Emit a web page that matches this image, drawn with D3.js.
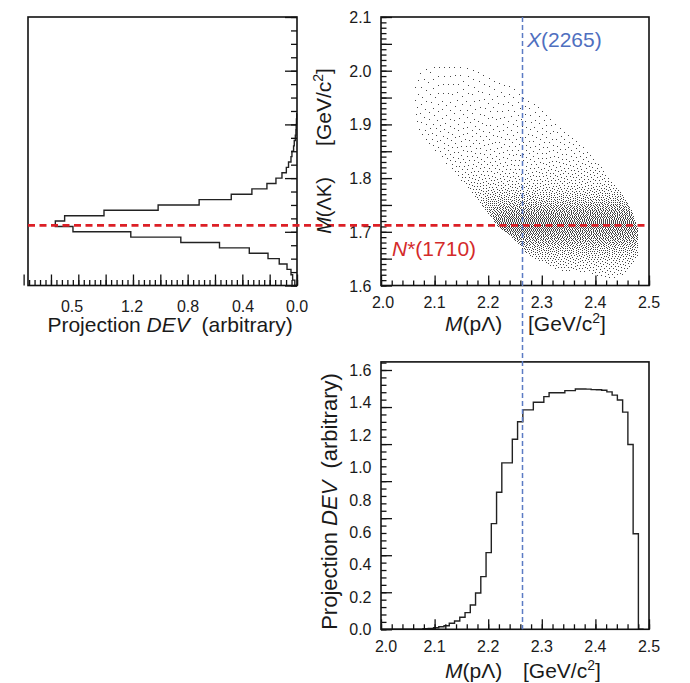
<!DOCTYPE html>
<html><head><meta charset="utf-8">
<script src="https://cdn.jsdelivr.net/npm/d3@7"></script>
<style>
body{margin:0;background:#fff}
svg{display:block}
text{font-family:"Liberation Sans",Arial,Helvetica,sans-serif;fill:#1a1a1a}
</style>
</head><body>
<svg id="chart" width="690" height="683"></svg>
<script>
// ---------------- data ----------------
// Projection of the Dalitz density onto M(ΛK): bins of 0.01 GeV starting at 1.60
const lamKBinStart = 1.60;
const lamKBinWidth = 0.01;
const lamKProjection = [
  0.016, 0.032, 0.044, 0.073, 0.130, 0.212, 0.349, 0.567, 0.850, 1.216,
  1.639, 1.768, 1.700, 1.412, 1.016, 0.716, 0.481, 0.330, 0.220, 0.154,
  0.110, 0.078, 0.062, 0.044, 0.037, 0.025, 0.020, 0.012, 0.008, 0.006,
  0.004, 0.002
];
// Projection onto M(pΛ): bins of 0.0098 GeV starting at 2.00
const pLamBinStart = 2.00;
const pLamBinWidth = 0.0098;
const pLamProjection = [
  0, 0, 0, 0, 0, 0, 0, 0, 0.003, 0.006,
  0.010, 0.016, 0.022, 0.037, 0.051, 0.074, 0.103, 0.150, 0.224, 0.325,
  0.473, 0.652, 0.846, 1.027, 1.027, 1.173, 1.281, 1.354, 1.354, 1.401,
  1.401, 1.436, 1.460, 1.460, 1.460, 1.473, 1.473, 1.483, 1.483, 1.482,
  1.479, 1.478, 1.475, 1.465, 1.445, 1.415, 1.340, 1.140, 0.590, 0
];
// Outline of the Dalitz-plot population [M(pΛ), M(ΛK)]
const cloudOutline = [
  [2.058,1.990],[2.063,2.010],[2.075,2.024],[2.090,2.030],[2.120,2.033],[2.160,2.031],
  [2.187,2.020],[2.205,2.008],[2.230,1.999],[2.252,1.989],[2.262,1.975],[2.272,1.964],
  [2.290,1.957],[2.305,1.945],[2.323,1.921],[2.342,1.901],[2.373,1.876],[2.395,1.850],
  [2.410,1.830],[2.425,1.805],[2.441,1.785],[2.458,1.760],[2.467,1.742],[2.473,1.724],
  [2.479,1.705],[2.480,1.680],[2.479,1.655],[2.470,1.640],[2.460,1.626],[2.445,1.615],
  [2.420,1.614],[2.402,1.618],[2.386,1.625],[2.330,1.628],[2.310,1.638],[2.292,1.647],
  [2.272,1.660],[2.261,1.672],[2.243,1.691],[2.220,1.708],[2.205,1.728],[2.180,1.759],
  [2.155,1.790],[2.127,1.821],[2.099,1.852],[2.085,1.866],[2.070,1.886],[2.062,1.910],
  [2.059,1.950]
];
// Visual darkness of the point cloud, cells of 0.025 x 0.025 GeV
// rows from M(ΛK)=2.100 (top) down to 1.600, columns from M(pΛ)=2.000 to 2.500
const cloudCellSize = 0.025;
const cloudDarkness = [
  [0,0,0,0,0,0,0,0,0,0,0,0,0,0,0,0,0,0,0,0],
  [0,0,0,0,0,0,0,0,0,0,0,0,0,0,0,0,0,0,0,0],
  [0,0,.12,.12,.12,.12,.12,.12,.12,.12,0,0,0,0,0,0,0,0,0,0],
  [0,0,.13,.13,.13,.13,.13,.13,.13,.13,.13,0,0,0,0,0,0,0,0,0],
  [0,0,.13,.13,.13,.13,.13,.13,.13,.13,.14,.14,0,0,0,0,0,0,0,0],
  [0,0,.14,.14,.14,.14,.14,.14,.14,.14,.14,.14,.14,0,0,0,0,0,0,0],
  [0,0,.15,.15,.15,.15,.15,.15,.15,.15,.15,.15,.15,.15,0,0,0,0,0,0],
  [0,0,.16,.16,.16,.16,.16,.16,.16,.16,.16,.16,.16,.16,.16,0,0,0,0,0],
  [0,0,.18,.18,.18,.18,.18,.18,.18,.18,.18,.18,.18,.18,.18,.18,0,0,0,0],
  [0,0,.20,.20,.20,.20,.20,.20,.20,.20,.20,.20,.20,.20,.20,.20,.20,0,0,0],
  [0,0,0,.22,.22,.22,.22,.22,.22,.22,.22,.22,.22,.22,.22,.22,.22,.22,0,0],
  [0,0,0,0,.26,.26,.26,.26,.26,.26,.26,.26,.30,.30,.30,.30,.30,.30,.30,0],
  [0,0,0,0,0,.35,.35,.35,.35,.35,.35,.35,.35,.35,.35,.35,.35,.35,.35,.35],
  [0,0,0,0,0,0,.40,.45,.55,.55,.55,.55,.55,.55,.55,.55,.55,.55,.55,.50],
  [0,0,0,0,0,0,0,.60,.75,.82,.82,.82,.82,.82,.82,.82,.82,.82,.82,.82],
  [0,0,0,0,0,0,0,0,.95,1.0,1.0,1.0,1.0,.95,.95,.95,.95,.95,.95,.95],
  [0,0,0,0,0,0,0,0,.80,.80,.80,.80,.80,.80,.80,.80,.80,.80,.80,.80],
  [0,0,0,0,0,0,0,0,0,.55,.55,.55,.55,.55,.55,.55,.55,.55,.55,.55],
  [0,0,0,0,0,0,0,0,0,0,.38,.38,.38,.38,.38,.38,.38,.38,.38,.38],
  [0,0,0,0,0,0,0,0,0,0,0,0,.28,.28,.28,.28,.28,.28,.28,.28]
];
// resonance markers
const nStarMass = 1.712;   // N*(1710) line position
const xMass = 2.264;       // X(2265) line position
// tick labels
const pLamTickLabels = ["2.0","2.1","2.2","2.3","2.4","2.5"];
const pLamTickValues = [2.0,2.1,2.2,2.3,2.4,2.5];
const lamKTickLabels = ["1.6","1.7","1.8","1.9","2.0","2.1"];
const lamKTickValues = [1.6,1.7,1.8,1.9,2.0,2.1];
const leftTickLabels = ["0.5","1.2","0.8","0.4","0.0"];
const leftTickLabelPos = [1.646,1.207,0.797,0.395,0.0];
const bottomTickLabels = ["1.6","1.4","1.2","1.0","0.8","0.6","0.4","0.2","0.0"];
const bottomTickLabelPos = [1.6,1.4,1.2,1.0,0.8,0.6,0.4,0.2,0.0];

// ---------------- drawing ----------------
const svg = d3.select("#chart");
const X  = d3.scaleLinear().domain([2.0, 2.5]).range([381, 649]);
const YK = d3.scaleLinear().domain([1.6, 2.1]).range([285.5, 17]);
const XL = d3.scaleLinear().domain([0, 1.968]).range([297, 28]);
const YB = d3.scaleLinear().domain([0, 1.65]).range([629.3, 361.9]);

// ---- scatter population: density map rendered as error-diffused dots ----
(function(){
  const x0 = Math.round(X(2.0)), y0 = Math.round(YK(2.1));
  const W = Math.round(X(2.5)) - x0, H = Math.round(YK(1.6)) - y0;
  const outlinePx = cloudOutline.map(d=>[X(d[0]), YK(d[1])]);
  const nr = cloudDarkness.length, nc = cloudDarkness[0].length;
  const cell = (r,c)=>cloudDarkness[Math.max(0,Math.min(nr-1,r))][Math.max(0,Math.min(nc-1,c))];
  function darkness(mx, my){
    const fc = (mx - 2.0)/cloudCellSize - 0.5, fr = (2.1 - my)/cloudCellSize - 0.5;
    const c = Math.floor(fc), r = Math.floor(fr), tc = fc - c, tr = fr - r;
    return (cell(r,c)*(1-tc) + cell(r,c+1)*tc)*(1-tr) + (cell(r+1,c)*(1-tc) + cell(r+1,c+1)*tc)*tr;
  }
  const t = new Float32Array(W*H);
  for (let j=0;j<H;j++) for (let i=0;i<W;i++){
    const px = x0+i+0.5, py = y0+j+0.5;
    if (!d3.polygonContains(outlinePx,[px,py])) continue;
    const d = darkness(X.invert(px), YK.invert(py));
    t[j*W+i] = 0.55*Math.pow(d,1.6);
  }
  const canvas = document.createElement("canvas");
  canvas.width = W; canvas.height = H;
  const ctx = canvas.getContext("2d");
  const img = ctx.createImageData(W,H);
  for (let j=0;j<H;j++){
    const ltr = (j%2===0);
    for (let k=0;k<W;k++){
      const i = ltr ? k : W-1-k, idx = j*W+i;
      const v = t[idx], on = v >= 0.5 ? 1 : 0, e = v - on, s = ltr ? 1 : -1;
      if (on){ img.data[idx*4]=35; img.data[idx*4+1]=35; img.data[idx*4+2]=35; img.data[idx*4+3]=215; }
      if (i+s>=0 && i+s<W) t[idx+s] += e*7/16;
      if (j+1<H){
        if (i-s>=0 && i-s<W) t[idx+W-s] += e*3/16;
        t[idx+W] += e*5/16;
        if (i+s>=0 && i+s<W) t[idx+W+s] += e*1/16;
      }
    }
  }
  ctx.putImageData(img,0,0);
  svg.append("image").attr("x",x0).attr("y",y0).attr("width",W).attr("height",H)
    .attr("href", canvas.toDataURL()).style("image-rendering","pixelated");
})();

// left histogram (horizontal)
const lp = d3.path();
lp.moveTo(XL(0), YK(lamKBinStart));
lamKProjection.forEach((v,i)=>{
  const lo = lamKBinStart + i*lamKBinWidth, hi = lo + lamKBinWidth;
  lp.lineTo(XL(v), YK(lo)); lp.lineTo(XL(v), YK(hi));
});
lp.lineTo(XL(0), YK(lamKBinStart + lamKProjection.length*lamKBinWidth));
svg.append("path").attr("d", lp.toString()).attr("fill","none")
  .attr("stroke","#222").attr("stroke-width",1.4);

// bottom histogram
const bp = d3.path();
bp.moveTo(X(pLamBinStart), YB(0));
pLamProjection.forEach((v,i)=>{
  const lo = pLamBinStart + i*pLamBinWidth, hi = lo + pLamBinWidth;
  bp.lineTo(X(lo), YB(v)); bp.lineTo(X(hi), YB(v));
});
bp.lineTo(X(pLamBinStart + pLamProjection.length*pLamBinWidth), YB(0));
svg.append("path").attr("d", bp.toString()).attr("fill","none")
  .attr("stroke","#222").attr("stroke-width",1.4);

// frames
const frame = (x0,y0,x1,y1)=>svg.append("rect").attr("x",x0).attr("y",y0)
  .attr("width",x1-x0).attr("height",y1-y0).attr("fill","none")
  .attr("stroke","#111").attr("stroke-width",1.6);
frame(XL.range()[1], YK(2.1), XL(0), YK(1.6));
frame(X(2.0), YK(2.1), X(2.5), YK(1.6));
frame(X(2.0), YB(1.65), X(2.5), YB(0));

// ticks through d3 axes
function tickSet(axis, tx, ty, vals, size){
  const g = svg.append("g").attr("transform",`translate(${tx},${ty})`)
    .call(axis.tickValues(vals).tickSize(size).tickFormat(""));
  g.select(".domain").remove();
  g.selectAll("line").attr("stroke","#111").attr("stroke-width",1.3);
}
const rng = (a,b,s)=>d3.range(Math.round((b-a)/s)+1).map(i=>+(a+i*s).toFixed(5));
// top-right
tickSet(d3.axisBottom(X), 0, YK(1.6), rng(2.0,2.5,0.1), -10);
tickSet(d3.axisBottom(X), 0, YK(1.6), rng(2.0,2.5,0.02), -5);
tickSet(d3.axisLeft(YK), X(2.0), 0, rng(1.6,2.1,0.05), -11);
tickSet(d3.axisLeft(YK), X(2.0), 0, rng(1.6,2.1,0.01), -5.5);
// top-left
tickSet(d3.axisBottom(XL), 0, YK(1.6), rng(0,1.96,0.2), -11);
tickSet(d3.axisBottom(XL), 0, YK(1.6), rng(0,1.96,0.04), -5.5);
tickSet(d3.axisRight(YK), XL(0), 0, rng(1.6,2.1,0.1), -12);
tickSet(d3.axisRight(YK), XL(0), 0, rng(1.6,2.1,0.025), -6);
// bottom
tickSet(d3.axisBottom(X), 0, YB(0), rng(2.0,2.5,0.1), -10);
tickSet(d3.axisBottom(X), 0, YB(0), rng(2.0,2.5,0.02), -5);
tickSet(d3.axisLeft(YB), X(2.0), 0, d3.range(8).map(i=>i*1.6/7), -11);
tickSet(d3.axisLeft(YB), X(2.0), 0, d3.range(37).map(i=>i*1.6/35).filter(v=>v<=1.65), -5.5);

// tick labels
const lab = (x,y,t,anchor)=>svg.append("text").attr("x",x).attr("y",y)
  .attr("text-anchor",anchor).attr("font-size",16).text(t);
pLamTickValues.forEach((v,i)=>lab(X(v)+(i===0?2:0), 308, pLamTickLabels[i], "middle"));
pLamTickValues.forEach((v,i)=>lab(X(v)+(i===0?5:0), 651.5, pLamTickLabels[i], "middle"));
lamKTickValues.forEach((v,i)=>lab(371.5, YK(v)+6, lamKTickLabels[i], "end"));
leftTickLabelPos.forEach((v,i)=>lab(XL(v), 311.5, leftTickLabels[i], "middle"));
bottomTickLabelPos.forEach((v,i)=>lab(371.5, YB(v)+6, bottomTickLabels[i], "end"));

// dashed marker lines
svg.append("line").attr("x1",XL.range()[1]).attr("x2",X(2.5))
  .attr("y1",YK(nStarMass)).attr("y2",YK(nStarMass))
  .attr("stroke","#dc1f26").attr("stroke-width",2.6).attr("stroke-dasharray","7,4.5");
svg.append("line").attr("x1",X(xMass)).attr("x2",X(xMass))
  .attr("y1",YK(2.1)).attr("y2",YB(0))
  .attr("stroke","#5b7bc4").attr("stroke-width",1.5).attr("stroke-dasharray","5,3");

// annotations
const xt = svg.append("text").attr("x",527).attr("y",47).attr("font-size",21).style("fill","#4f6fbf");
xt.append("tspan").attr("font-style","italic").text("X");
xt.append("tspan").text("(2265)");
const nt = svg.append("text").attr("x",392).attr("y",256).attr("font-size",21).style("fill","#d42a2a");
nt.append("tspan").attr("font-style","italic").text("N");
nt.append("tspan").text("*(1710)");

// axis titles
function projTitle(sel){
  sel.append("tspan").text("Projection ");
  sel.append("tspan").attr("font-style","italic").text("DEV");
  sel.append("tspan").attr("dx",6).text(" (arbitrary)");
}
function unitTitle(sel){
  sel.append("tspan").text("[GeV/c");
  sel.append("tspan").attr("font-size",14).attr("dy",-8).text("2");
  sel.append("tspan").attr("dy",8).text("]");
}
function massTitle(sel, inner){
  sel.append("tspan").attr("font-style","italic").text("M");
  sel.append("tspan").text(inner);
}
projTitle(svg.append("text").attr("x",170).attr("y",332).attr("text-anchor","middle").attr("font-size",21));
massTitle(svg.append("text").attr("x",445).attr("y",331).attr("font-size",21), "(pΛ)");
unitTitle(svg.append("text").attr("x",528).attr("y",331).attr("font-size",21));
massTitle(svg.append("text").attr("x",445).attr("y",678).attr("font-size",21), "(pΛ)");
unitTitle(svg.append("text").attr("x",523).attr("y",678).attr("font-size",21));
massTitle(svg.append("text").attr("transform","translate(331,205.5) rotate(-90)")
  .attr("text-anchor","middle").attr("font-size",20), "(ΛK)");
unitTitle(svg.append("text").attr("transform","translate(331,107) rotate(-90)")
  .attr("text-anchor","middle").attr("font-size",21));
projTitle(svg.append("text").attr("transform","translate(337,501.5) rotate(-90)")
  .attr("text-anchor","middle").attr("font-size",22));
</script>
</body></html>
